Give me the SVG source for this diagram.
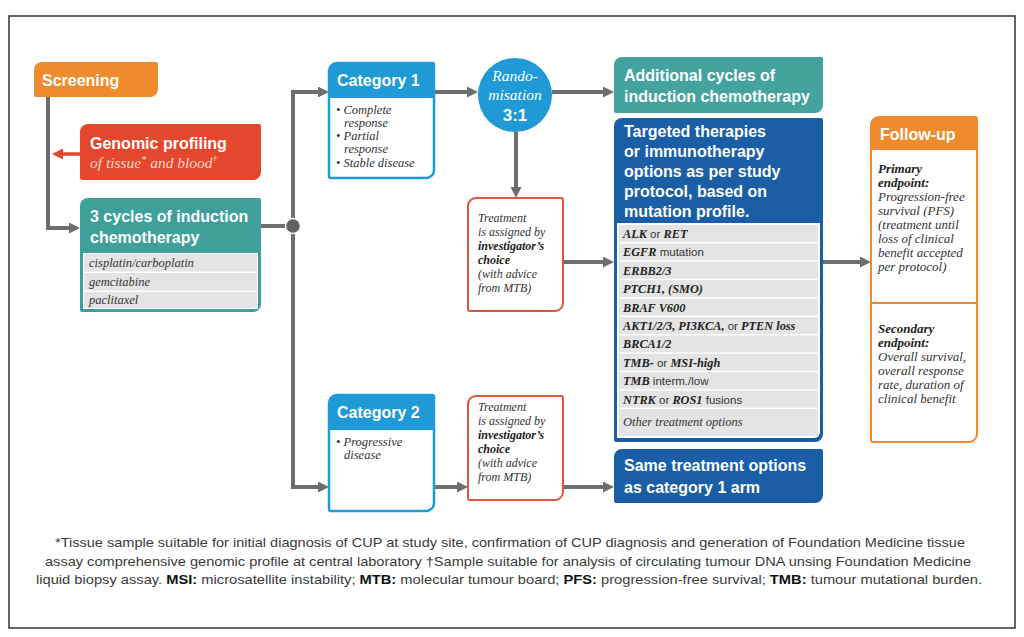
<svg xmlns="http://www.w3.org/2000/svg" width="1024" height="637" viewBox="0 0 1024 637">
<defs>
<style>
.h{font-family:"Liberation Sans",Arial,sans-serif;font-weight:bold;font-size:16px;fill:#fff}
.it{font-family:"Liberation Serif","Times New Roman",serif;font-style:italic;font-size:12px;fill:#333}
.fu{font-size:13px}
.li{font-size:12.5px}
.b{font-weight:bold;fill:#222}
.g{font-family:"Liberation Serif","Times New Roman",serif;font-style:italic;font-weight:bold;font-size:12.3px;fill:#222}
.s{font-family:"Liberation Sans",Arial,sans-serif;font-style:normal;font-weight:normal;font-size:11.5px;fill:#333}
.row{fill:#e4e4e4}
.con{fill:none;stroke:#6d6e71;stroke-width:4}
.foot{font-family:"Liberation Sans",Arial,sans-serif;font-size:13px;fill:#3a3a3a}
.rn{font-family:"Liberation Serif","Times New Roman",serif;font-style:italic;font-size:15.5px;fill:#fff}
</style>
<marker id="ah" viewBox="0 0 10 10" refX="5" refY="5" markerWidth="11" markerHeight="11" markerUnits="userSpaceOnUse" orient="auto"><path d="M0,0 L10,5 L0,10 z" fill="#6d6e71"/></marker>
<marker id="ahr" viewBox="0 0 10 10" refX="5" refY="5" markerWidth="11" markerHeight="11" markerUnits="userSpaceOnUse" orient="auto"><path d="M0,0 L10,5 L0,10 z" fill="#e4472c"/></marker>
</defs>
<rect x="0" y="0" width="1024" height="637" fill="#fff"/>
<rect x="9" y="16" width="1006" height="612" fill="#fff" stroke="#333" stroke-width="1.5"/>

<g id="connectors">
<path class="con" d="M48,97 V228 H74.5" marker-end="url(#ah)"/>
<path d="M80,154 H57.5" fill="none" stroke="#e4472c" stroke-width="3.5" marker-end="url(#ahr)"/>
<path class="con" d="M261,226 H293"/>
<path class="con" d="M293,226 V92 H323.5" marker-end="url(#ah)"/>
<path class="con" d="M293,226 V487 H323.5" marker-end="url(#ah)"/>
<path class="con" d="M434,92 H472.5" marker-end="url(#ah)"/>
<path class="con" d="M552,92 H608.5" marker-end="url(#ah)"/>
<path class="con" d="M516,132 V192.5" marker-end="url(#ah)"/>
<path class="con" d="M563,262 H608.5" marker-end="url(#ah)"/>
<path class="con" d="M823,262 H865.5" marker-end="url(#ah)"/>
<path class="con" d="M434,487 H462.5" marker-end="url(#ah)"/>
<path class="con" d="M563,487 H608.5" marker-end="url(#ah)"/>
<circle cx="293" cy="226" r="7.5" fill="#5f6062" stroke="#fff" stroke-width="1.5"/>
</g>

<g id="screening">
<path d="M42,62 H156 A2,2 0 0 1 158,64 V89 A8,8 0 0 1 150,97 H36 A2,2 0 0 1 34,95 V70 A8,8 0 0 1 42,62 Z" fill="#ef8b2c"/>
<text class="h" x="42" y="86">Screening</text>
</g>

<g id="genomic">
<path d="M88,124 H259 A2,2 0 0 1 261,126 V172 A8,8 0 0 1 253,180 H82 A2,2 0 0 1 80,178 V132 A8,8 0 0 1 88,124 Z" fill="#e4472c"/>
<text class="h" x="90" y="149">Genomic profiling</text>
<text x="90" y="168" style="font-family:'Liberation Serif','Times New Roman',serif;font-style:italic;font-size:15.5px;fill:#fbd9cc">of tissue<tspan font-size="10" dy="-5">*</tspan><tspan dy="5"> and blood</tspan><tspan font-size="9" dy="-6">†</tspan></text>
</g>

<g id="induction">
<path d="M88,198 H259 A2,2 0 0 1 261,200 V304 A8,8 0 0 1 253,312 H82 A2,2 0 0 1 80,310 V206 A8,8 0 0 1 88,198 Z" fill="#3e9f9b"/>
<rect x="83" y="253" width="175" height="56" fill="#fff"/>
<rect class="row" x="84" y="254" width="173" height="17.5"/>
<rect class="row" x="84" y="273" width="173" height="17.5"/>
<rect class="row" x="84" y="292" width="173" height="16"/>
<text class="h" x="90" y="222">3 cycles of induction</text>
<text class="h" x="90" y="243">chemotherapy</text>
<text class="it li" x="89" y="267">cisplatin/carboplatin</text>
<text class="it li" x="89" y="286">gemcitabine</text>
<text class="it li" x="89" y="304">paclitaxel</text>
</g>

<g id="category1">
<path d="M337,63 H432 A2,2 0 0 1 434,65 V170 A8,8 0 0 1 426,178 H331 A2,2 0 0 1 329,176 V71 A8,8 0 0 1 337,63 Z" fill="#fff" stroke="#1f9ad6" stroke-width="2.5"/>
<path d="M337,63 H432 A2,2 0 0 1 434,65 V98 H329 V71 A8,8 0 0 1 337,63 Z" fill="#1f9ad6"/>
<text class="h" x="337" y="86">Category 1</text>
<text class="it li" x="336" y="114">• Complete</text>
<text class="it li" x="344" y="127">response</text>
<text class="it li" x="336" y="140">• Partial</text>
<text class="it li" x="344" y="153">response</text>
<text class="it li" x="336" y="167">• Stable disease</text>
</g>

<g id="randomisation">
<circle cx="515" cy="95" r="37" fill="#1f9ad6"/>
<text class="rn" x="515" y="81" text-anchor="middle">Rando-</text>
<text class="rn" x="515" y="100" text-anchor="middle">misation</text>
<text class="h" x="515" y="121" text-anchor="middle" style="font-size:17px">3:1</text>
</g>

<g id="treatment1">
<path d="M476,198 H561 A2,2 0 0 1 563,200 V303 A8,8 0 0 1 555,311 H470 A2,2 0 0 1 468,309 V206 A8,8 0 0 1 476,198 Z" fill="#fff" stroke="#e0533c" stroke-width="2"/>
<text class="it" x="478" y="222">Treatment</text>
<text class="it" x="478" y="236">is assigned by</text>
<text class="it b" x="478" y="250">investigator’s</text>
<text class="it b" x="478" y="264">choice</text>
<text class="it" x="478" y="278">(with advice</text>
<text class="it" x="478" y="292">from MTB)</text>
</g>

<g id="additional">
<path d="M622,57 H821 A2,2 0 0 1 823,59 V105 A8,8 0 0 1 815,113 H616 A2,2 0 0 1 614,111 V65 A8,8 0 0 1 622,57 Z" fill="#44a39f"/>
<text class="h" x="624" y="81">Additional cycles of</text>
<text class="h" x="624" y="102">induction chemotherapy</text>
</g>

<g id="targeted">
<path d="M622,118 H821 A2,2 0 0 1 823,120 V434 A8,8 0 0 1 815,442 H616 A2,2 0 0 1 614,440 V126 A8,8 0 0 1 622,118 Z" fill="#1b5ea8"/>
<path d="M617,223 H820 V432 A6,6 0 0 1 814,438 H617 Z" fill="#fff"/>
<text class="h" x="624" y="137">Targeted therapies</text>
<text class="h" x="624" y="157">or immunotherapy</text>
<text class="h" x="624" y="177">options as per study</text>
<text class="h" x="624" y="197">protocol, based on</text>
<text class="h" x="624" y="217">mutation profile.</text>
<rect class="row" x="619" y="225" width="199" height="17"/>
<rect class="row" x="619" y="243.4" width="199" height="17"/>
<rect class="row" x="619" y="261.8" width="199" height="17"/>
<rect class="row" x="619" y="280.2" width="199" height="17"/>
<rect class="row" x="619" y="298.6" width="199" height="17"/>
<rect class="row" x="619" y="317" width="199" height="17"/>
<rect class="row" x="619" y="335.4" width="199" height="17"/>
<rect class="row" x="619" y="353.8" width="199" height="17"/>
<rect class="row" x="619" y="372.2" width="199" height="17"/>
<rect class="row" x="619" y="390.6" width="199" height="17"/>
<rect class="row" x="619" y="409" width="199" height="27"/>
<text class="g" x="623" y="238">ALK<tspan class="s"> or </tspan>RET</text>
<text class="g" x="623" y="256.4">EGFR<tspan class="s"> mutation</tspan></text>
<text class="g" x="623" y="274.8">ERBB2/3</text>
<text class="g" x="623" y="293.2">PTCH1, (SMO)</text>
<text class="g" x="623" y="311.6">BRAF V600</text>
<text class="g" x="623" y="330">AKT1/2/3, PI3KCA,<tspan class="s"> or </tspan>PTEN loss</text>
<text class="g" x="623" y="348.4">BRCA1/2</text>
<text class="g" x="623" y="366.8">TMB-<tspan class="s"> or </tspan>MSI-high</text>
<text class="g" x="623" y="385.2">TMB<tspan class="s"> interm./low</tspan></text>
<text class="g" x="623" y="403.6">NTRK<tspan class="s"> or </tspan>ROS1<tspan class="s"> fusions</tspan></text>
<text class="it li" x="623" y="426">Other treatment options</text>
</g>

<g id="followup">
<path d="M879,117 H975 A2,2 0 0 1 977,119 V434 A8,8 0 0 1 969,442 H873 A2,2 0 0 1 871,440 V125 A8,8 0 0 1 879,117 Z" fill="#fff" stroke="#ef8b2c" stroke-width="2"/>
<path d="M879,117 H975 A2,2 0 0 1 977,119 V150 H871 V125 A8,8 0 0 1 879,117 Z" fill="#ef8b2c"/>
<path d="M871,303 H977" stroke="#ef8b2c" stroke-width="2"/>
<text class="h" x="880" y="140">Follow-up</text>
<text class="it fu b" x="878" y="173">Primary</text>
<text class="it fu b" x="878" y="187">endpoint:</text>
<text class="it fu" x="878" y="201">Progression-free</text>
<text class="it fu" x="878" y="215">survival (PFS)</text>
<text class="it fu" x="878" y="229">(treatment until</text>
<text class="it fu" x="878" y="243">loss of clinical</text>
<text class="it fu" x="878" y="257">benefit accepted</text>
<text class="it fu" x="878" y="271">per protocol)</text>
<text class="it fu b" x="878" y="333">Secondary</text>
<text class="it fu b" x="878" y="347">endpoint:</text>
<text class="it fu" x="878" y="361">Overall survival,</text>
<text class="it fu" x="878" y="375">overall response</text>
<text class="it fu" x="878" y="389">rate, duration of</text>
<text class="it fu" x="878" y="403">clinical benefit</text>
</g>

<g id="category2">
<path d="M337,395 H432 A2,2 0 0 1 434,397 V503 A8,8 0 0 1 426,511 H331 A2,2 0 0 1 329,509 V403 A8,8 0 0 1 337,395 Z" fill="#fff" stroke="#1f9ad6" stroke-width="2.5"/>
<path d="M337,395 H432 A2,2 0 0 1 434,397 V430 H329 V403 A8,8 0 0 1 337,395 Z" fill="#1f9ad6"/>
<text class="h" x="337" y="418">Category 2</text>
<text class="it li" x="336" y="446">• Progressive</text>
<text class="it li" x="344" y="459">disease</text>
</g>

<g id="treatment2">
<path d="M476,396 H561 A2,2 0 0 1 563,398 V492 A8,8 0 0 1 555,500 H470 A2,2 0 0 1 468,498 V404 A8,8 0 0 1 476,396 Z" fill="#fff" stroke="#e0533c" stroke-width="2"/>
<text class="it" x="478" y="411">Treatment</text>
<text class="it" x="478" y="425">is assigned by</text>
<text class="it b" x="478" y="439">investigator’s</text>
<text class="it b" x="478" y="453">choice</text>
<text class="it" x="478" y="467">(with advice</text>
<text class="it" x="478" y="481">from MTB)</text>
</g>

<g id="same">
<path d="M622,449 H821 A2,2 0 0 1 823,451 V495 A8,8 0 0 1 815,503 H616 A2,2 0 0 1 614,501 V457 A8,8 0 0 1 622,449 Z" fill="#1b5ea8"/>
<text class="h" x="624" y="471">Same treatment options</text>
<text class="h" x="624" y="493">as category 1 arm</text>
</g>

<g id="footnote">
<text class="foot" x="55" y="547" textLength="910" lengthAdjust="spacingAndGlyphs">*Tissue sample suitable for initial diagnosis of CUP at study site, confirmation of CUP diagnosis and generation of Foundation Medicine tissue</text>
<text class="foot" x="45" y="566" textLength="926" lengthAdjust="spacingAndGlyphs">assay comprehensive genomic profile at central laboratory †Sample suitable for analysis of circulating tumour DNA unsing Foundation Medicine</text>
<text class="foot" x="36" y="584" textLength="946" lengthAdjust="spacingAndGlyphs">liquid biopsy assay. <tspan font-weight="bold" fill="#111">MSI:</tspan> microsatellite instability; <tspan font-weight="bold" fill="#111">MTB:</tspan> molecular tumour board; <tspan font-weight="bold" fill="#111">PFS:</tspan> progression-free survival; <tspan font-weight="bold" fill="#111">TMB:</tspan> tumour mutational burden.</text>
</g>
</svg>
